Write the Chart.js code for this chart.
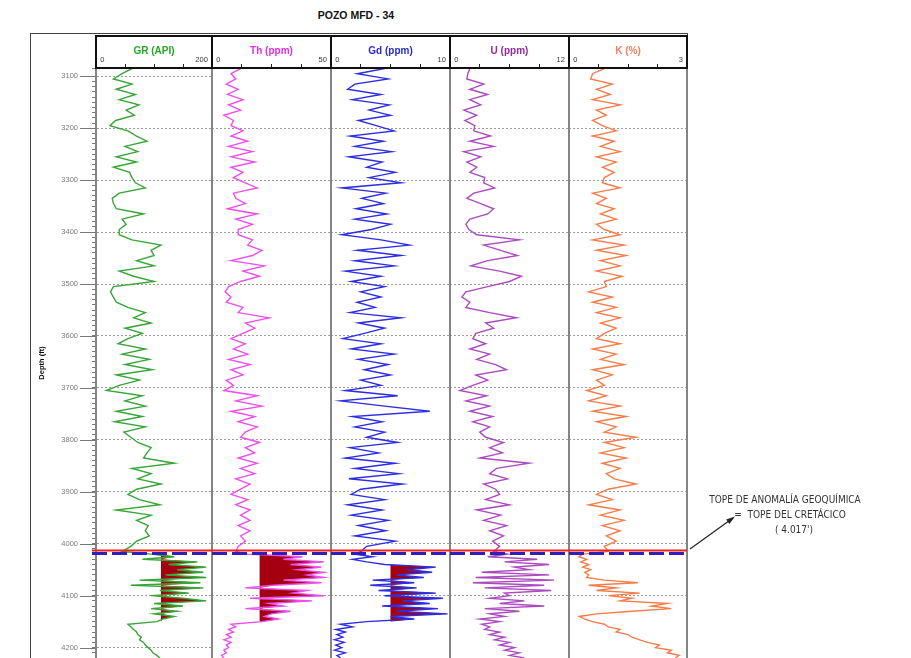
<!DOCTYPE html>
<html>
<head>
<meta charset="utf-8">
<script src="https://cdn.jsdelivr.net/npm/chart.js@4.4.1/dist/chart.umd.min.js"></script>
<style>
  body { margin: 0; background: #fff; width: 911px; height: 658px; overflow: hidden; position: relative; }
  #title { position: absolute; left: 0; width: 712px; top: 9px; text-align: center;
           font: bold 10.5px "Liberation Sans", Arial, sans-serif; color: #111; }
  #frame { position: absolute; left: 30px; top: 33px; width: 656px; height: 640px;
           border: 1px solid #444; box-sizing: content-box; }
</style>
</head>
<body>
<div id="frame"></div>
<div id="title">POZO MFD - 34</div>
<script>
// depth samples (ft): 10 ft above the top of the Cretaceous, 5 ft below it
const depthUpper = [3085,3095,3105,3115,3125,3135,3145,3155,3165,3175,3185,3195,3205,3215,3225,3235,3245,3255,3265,3275,3285,3295,
  3305,3315,3325,3335,3345,3355,3365,3375,3385,3395,3405,3415,3425,3435,3445,3455,3465,3475,3485,3495,3505,3515,3525,3535,3545,3555,
  3565,3575,3585,3595,3605,3615,3625,3635,3645,3655,3665,3675,3685,3695,3705,3715,3725,3735,3745,3755,3765,3775,3785,3795,3805,3815,
  3825,3835,3845,3855,3865,3875,3885,3895,3905,3915,3925,3935,3945,3955,3965,3975,3985,3995,4005,4015];
const depthLower = [4020,4025,4030,4035,4040,4045,4050,4055,4060,4065,4070,4075,4080,4085,4090,4095,4100,4105,4110,4115,4120,
  4125,4130,4135,4140,4145,4150,4155,4160,4165,4170,4175,4180,4185,4190,4195,4200,4205,4210,4215,4220];

const grUpper = [62,45, 30,62,35,68,40,74,52,66,34,24, 55,70,88,50,72,35,70,30,58,62, 68,85,40,28,30,35,82,45,52,40,
  40,62,112,95,100,70,100,40,65,100, 30,25,30,35,55,85,65,95,50,80, 55,38,85,45,92,50,97,35,75,40,
  18,80,50,85,35,80,32,85,48,60, 72,95,88,82,135,62,95,72,112,70, 55,75,110,35,95,70,90,85,92,70,60,45];
const grLower = [95,135,80,175,125,190,140,185,120,190,75,180,60,185,110,160,95,150,190,100,150,95,140,100,135,115,105,
  55,60,65,70,72,78,75,82,85,90,95,98,105,110];

const thUpper = [12,8, 10,6,11,6.5,13,7,12,5,9,8, 13,8,15,7,17,8,18,8,13,9, 14,19,9,10,14,6.5,19,10,17,11,
  11,17,15,21,17,8,22,13,20,12, 7,5.5,8,6,13,11,24,14,18,13, 8,14,9,15,7,16,8,13,6,9,
  5,19,10,21,8,18,11,19,14,12, 20,14,18,11,19,12,18,10,16,12, 8,15,10,16,12,16,11,16,12,14,11,10];
const thLower = [15,38,30,47,33,46,36,47,40,47,30,46,26,14,40,34,47,16,42,24,30,14,33,25,22,28,21,
  8,10,7,9,6,8,5,8,6,7,5,6,4,5];

const gdUpper = [4.5,2.2, 4.8,2.0,1.4,4.2,1.8,4.9,3.2,5.0,2.3,3.8, 5.3,1.6,4.4,2.0,5.1,1.5,4.3,3.0,5.4,3.2,
  5.9,0.9,4.6,2.6,4.4,2.1,4.7,2.0,5.0,3.4, 0.9,4.2,6.6,2.2,5.9,2.0,5.3,1.2,4.2,1.7, 4.5,2.5,4.2,2.2,3.7,1.6,5.9,2.3,4.5,2.8,
  1.0,4.2,1.7,5.3,2.3,4.8,2.8,5.0,2.5,4.2, 1.2,5.6,0.8,4.5,8.3,1.8,4.3,2.0,4.5,3.0, 5.6,1.6,4.0,1.2,5.4,2.0,5.7,1.5,6.0,2.5,
  1.7,4.5,1.4,4.3,1.7,4.8,2.3,4.6,2.0,5.4,3.0,2.5];
const gdLower = [2.0,3.5,1.8,3.0,4.5,8.8,6.5,8.5,5.5,7.8,3.5,7.0,3.3,7.2,4.0,8.8,4.5,9.4,6.0,8.3,4.3,9.0,5.5,9.8,5.0,7.0,3.0,
  0.8,1.8,0.4,1.2,0.5,1.0,0.3,1.1,0.4,0.9,0.3,1.2,0.5,0.8];

const uUpper = [2.0,1.8, 1.7,3.4,2.0,3.8,2.0,3.1,1.4,2.7,1.5,2.5, 2.4,4.1,2.0,4.4,1.4,3.1,1.7,2.7,2.0,3.5,
  3.4,4.5,2.4,1.7,3.1,4.4,3.8,2.0,1.6,1.9, 2.7,7.0,3.4,5.1,6.8,3.8,2.1,5.0,7.2,6.0, 3.8,1.6,1.2,2.0,1.6,4.0,6.7,3.6,4.4,2.6,
  2.3,3.6,2.0,4.0,2.7,4.6,5.7,2.6,3.8,2.3, 1.0,3.7,1.6,4.0,2.0,4.3,2.3,4.0,3.0,3.6, 5.4,4.0,5.3,3.0,8.0,4.7,4.0,5.8,3.4,4.6,
  5.0,3.6,6.0,2.7,5.1,3.4,5.7,4.0,5.4,4.3,5.0,4.4];
const uLower = [5.8,3.8,8.8,5.5,10.0,6.5,8.0,3.2,10.0,2.6,10.5,2.3,9.5,3.5,10.2,5.5,6.0,4.0,7.5,5.0,9.5,3.5,7.0,4.0,5.5,3.0,5.0,
  3.2,4.0,3.5,5.0,4.0,5.5,4.5,6.0,5.0,6.5,5.5,7.0,6.0,7.5];

const kUpper = [0.9,0.6, 0.55,1.1,0.7,1.05,0.6,1.3,0.7,0.95,0.6,0.85, 1.2,0.6,1.15,0.8,1.3,0.7,1.2,0.85,1.15,0.9,
  0.85,1.3,0.6,0.95,0.7,1.15,0.8,1.2,0.7,0.9, 1.3,0.6,1.4,0.7,1.45,0.8,1.3,0.7,1.35,0.9, 0.95,0.5,1.1,0.6,1.2,0.7,1.3,0.8,1.2,0.9,
  0.7,1.3,0.6,1.2,0.8,1.4,0.6,1.1,0.7,0.9, 0.45,0.95,0.5,1.3,0.6,1.45,0.7,1.2,0.9,1.7, 0.9,1.4,0.8,1.45,0.85,1.3,0.95,1.15,1.7,1.0,
  0.7,1.1,0.5,1.3,0.8,1.4,0.85,1.3,0.95,1.2,0.9,1.0];
const kLower = [0.35,0.25,0.45,0.3,0.5,0.35,0.55,0.4,0.5,0.45,0.9,1.75,0.5,1.2,0.7,1.8,1.0,1.6,1.3,2.5,2.1,2.6,1.6,0.7,0.26,
  0.4,0.6,0.9,1.0,1.3,1.2,1.5,1.6,1.8,2.0,2.3,2.2,2.6,2.5,2.8,2.7];

const trackNames = ['GR (API)', 'Th (ppm)', 'Gd (ppm)', 'U (ppm)', 'K (%)'];
const trackMax = [200, 50, 10, 12, 3];
const fillBase = [112, 20, 5, null, null];     // anomaly cut-off shaded in red
const fillTop = [4020, 4020, 4040, null, null];
const fillBottom = 4150;
const TOPE = 4017;
const depthMin = 3084, depthMax = 4220;

const lineColors = ['rgb(55,165,55)', 'rgb(235,80,235)', 'rgb(45,45,225)', 'rgb(172,75,192)', 'rgb(245,125,75)'];
const titleColors = ['rgb(35,170,35)', 'rgb(230,45,230)', 'rgb(40,40,215)', 'rgb(150,40,165)', 'rgb(245,130,95)'];
const redFill = 'rgb(165,0,15)';

const depthAll = depthUpper.concat(depthLower);
const curves = [grUpper.concat(grLower), thUpper.concat(thLower), gdUpper.concat(gdLower),
                uUpper.concat(uLower), kUpper.concat(kLower)];

Chart.defaults.font.family = '"Liberation Sans", Arial, sans-serif';

// canvas placement of each track (page px)
const tracks = [
  {left: 30, width: 182, axis: true, padRight: 0},
  {left: 212, width: 119, axis: false, padRight: 0},
  {left: 331, width: 119, axis: false, padRight: 0},
  {left: 450, width: 119, axis: false, padRight: 0},
  {left: 569, width: 342, axis: false, padRight: 224}
];
const canvasTop = 34, canvasH = 624;

const trackDeco = {
  id: 'trackDeco',
  afterDraw(chart) {
    const {ctx, chartArea: a, scales: {y}} = chart;
    ctx.save();
    // body separators
    ctx.strokeStyle = '#858585';
    ctx.lineWidth = 2;
    ctx.beginPath();
    ctx.moveTo(a.left, a.top); ctx.lineTo(a.left, a.bottom);
    ctx.moveTo(a.right, a.top); ctx.lineTo(a.right, a.bottom);
    ctx.stroke();
    // header box
    ctx.strokeStyle = '#111';
    ctx.lineWidth = 2;
    ctx.strokeRect(a.left, 2, a.right - a.left, a.top - 2);
    // longer major ticks on the depth axis
    if (chart.options.scales.y.ticks.display) {
      ctx.strokeStyle = '#777';
      ctx.lineWidth = 1;
      ctx.beginPath();
      y.ticks.forEach(t => {
        if (t.value % 100 === 0) {
          const py = Math.round(y.getPixelForValue(t.value)) + 0.5;
          ctx.moveTo(a.left - 16, py); ctx.lineTo(a.left, py);
        }
      });
      ctx.stroke();
    }
    // top of geochemical anomaly
    const py = y.getPixelForValue(TOPE);
    const x0 = chart.options.scales.y.ticks.display ? a.left - 4 : a.left;
    ctx.strokeStyle = 'rgb(235,35,30)';
    ctx.lineWidth = 2;
    ctx.beginPath(); ctx.moveTo(x0, py - 2); ctx.lineTo(a.right, py - 2); ctx.stroke();
    ctx.strokeStyle = 'rgb(45,30,190)';
    ctx.lineWidth = 3;
    ctx.setLineDash([15, 5]);
    ctx.beginPath(); ctx.moveTo(x0, py + 1); ctx.lineTo(a.right, py + 1); ctx.stroke();
    ctx.restore();
  }
};

const note = {
  id: 'note',
  afterDraw(chart) {
    const {ctx} = chart;
    const ox = 569, oy = canvasTop;
    ctx.save();
    ctx.fillStyle = '#333';
    ctx.textAlign = 'center';
    ctx.textBaseline = 'middle';
    ctx.font = '10px "Liberation Sans Narrow", "DejaVu Sans Condensed", "Liberation Sans", sans-serif';
    ctx.fillText('TOPE DE ANOMALÍA GEOQUÍMICA', 785 - ox, 500 - oy);
    ctx.fillText('=  TOPE DEL CRETÁCICO', 790 - ox, 515 - oy);
    ctx.fillText("( 4.017')", 794 - ox, 530 - oy);
    // arrow
    const x1 = 690 - ox, y1 = 549 - oy, x2 = 733 - ox, y2 = 518 - oy;
    ctx.strokeStyle = '#222';
    ctx.fillStyle = '#222';
    ctx.lineWidth = 1.2;
    ctx.beginPath(); ctx.moveTo(x1, y1); ctx.lineTo(x2, y2); ctx.stroke();
    const ang = Math.atan2(y2 - y1, x2 - x1);
    ctx.beginPath();
    ctx.moveTo(x2 + 2, y2 - 1.5);
    ctx.lineTo(x2 - 7 * Math.cos(ang - 0.4), y2 - 7 * Math.sin(ang - 0.4));
    ctx.lineTo(x2 - 7 * Math.cos(ang + 0.4), y2 - 7 * Math.sin(ang + 0.4));
    ctx.closePath();
    ctx.fill();
    ctx.restore();
  }
};

tracks.forEach((t, i) => {
  const c = document.createElement('canvas');
  c.width = t.width; c.height = canvasH;
  c.style.cssText = `position:absolute;left:${t.left}px;top:${canvasTop}px;width:${t.width}px;height:${canvasH}px`;
  document.body.appendChild(c);

  const vals = curves[i];
  const datasets = [{
    data: depthAll.map((d, k) => ({x: vals[k], y: d})),
    borderColor: lineColors[i],
    borderWidth: 1.4,
    pointRadius: 0,
    fill: false
  }];
  if (fillBase[i] !== null) {
    const base = fillBase[i];
    const pts = [];
    depthAll.forEach((d, k) => {
      if (d >= fillTop[i] && d <= fillBottom) pts.push({x: Math.max(vals[k], base), y: d});
    });
    datasets.push({
      data: pts,
      borderWidth: 0,
      borderColor: 'transparent',
      backgroundColor: redFill,
      pointRadius: 0,
      fill: {value: base}
    });
  }

  const gridColor = ctx => (ctx.tick && ctx.tick.value % 100 === 0) ? '#9a9a9a' : 'transparent';

  new Chart(c, {
    type: 'line',
    data: {datasets},
    options: {
      responsive: false,
      animation: false,
      indexAxis: 'y',
      layout: {padding: {top: 2, right: t.padRight, left: 0, bottom: 0}},
      plugins: {legend: {display: false}, tooltip: {enabled: false}},
      elements: {line: {tension: 0}},
      scales: {
        x: {
          type: 'linear', position: 'top', min: 0, max: trackMax[i],
          ticks: {
            stepSize: trackMax[i] / 4, autoSkip: false, maxRotation: 0, align: 'inner',
            padding: 0, color: '#333', font: {size: 7.5},
            callback: (v, k, arr) => k === 0 ? '  ' + v : (k === arr.length - 1 ? v + '  ' : '')
          },
          grid: {drawOnChartArea: false, tickLength: 4, tickColor: '#222', color: '#222'},
          border: {display: true, color: '#111', width: 2},
          title: {display: true, text: trackNames[i], color: titleColors[i],
                  font: {size: 10, weight: 'bold'}, padding: {top: 9, bottom: 0}},
          afterFit: s => { s.height = 32; s.paddingLeft = 0; s.paddingRight = 0; }
        },
        y: {
          type: 'linear', position: 'left', reverse: true, min: depthMin, max: depthMax,
          ticks: t.axis ? {
            display: true, stepSize: 10, autoSkip: false, padding: 14, color: '#7a7a7a',
            font: {size: 7.5}, callback: v => v % 100 === 0 ? String(v) : ''
          } : {display: false, stepSize: 100},
          grid: {color: gridColor, lineWidth: 1, drawTicks: t.axis, tickLength: 4, tickColor: '#777'},
          border: {display: t.axis, color: '#666', width: 1, dash: [2, 2]},
          title: {display: t.axis, text: 'Depth (ft)', color: '#111',
                  font: {size: 7.5, weight: 'bold'}, padding: {top: 7, bottom: 0}},
          afterFit: s => { s.width = t.axis ? 66 : 0; s.paddingTop = 0; s.paddingBottom = 0; }
        }
      }
    },
    plugins: i === 4 ? [trackDeco, note] : [trackDeco]
  });
});
</script>
</body>
</html>
